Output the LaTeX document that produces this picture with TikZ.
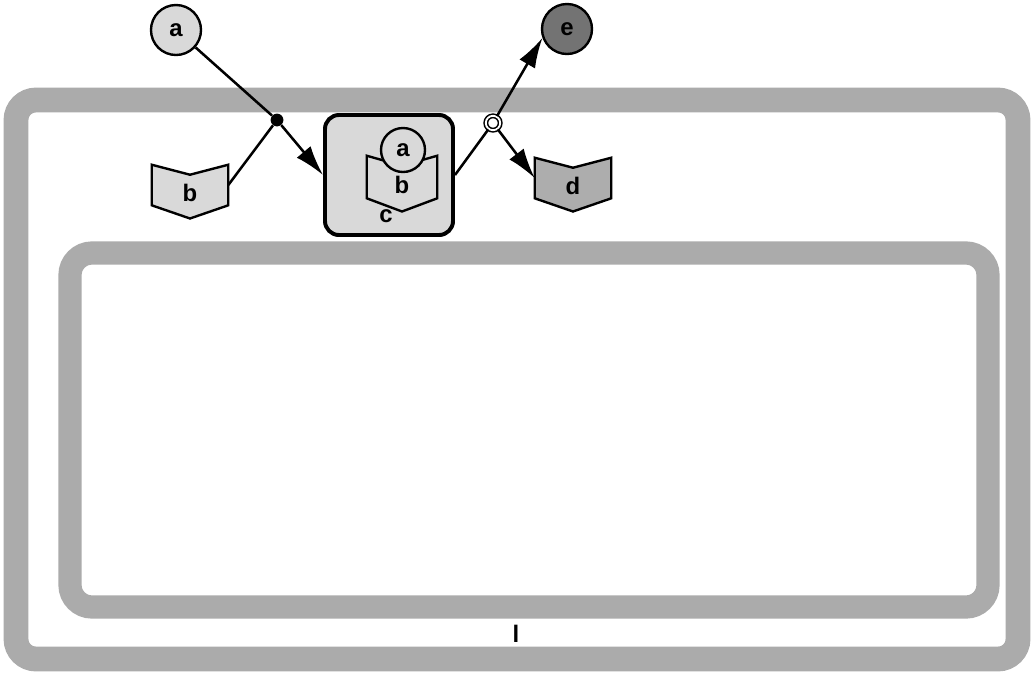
\documentclass[tikz,border=0pt]{standalone}
\usepackage{fontspec}
\setmainfont{Liberation Sans}
\usepackage{tikz}
\usetikzlibrary{arrows.meta,positioning}

% forma a libro: [opzioni] nome, posizione, riempimento, testo
\newcommand{\libro}[5][]{%
  \node[libro,#1] (#2) at (#3) {};
  \draw[fill=#4, line width=1.7pt] (#2.north west) -- ([yshift=-0.25cm]#2.north) -- (#2.north east)
    -- (#2.south east) -- ([yshift=-0.33cm]#2.south) -- (#2.south west) -- cycle;
  \node[lbl] (#2-t) at ([yshift=-0.2cm]#2.center) {#5};}

\begin{document}
\begin{tikzpicture}[x=0.025cm, y=-0.025cm, font=\bfseries\fontsize{17}{19}\selectfont,
    band/.style={draw=black!33, line width=0.62cm, rounded corners=0.5cm},
    circ/.style={circle, draw, line width=1.7pt, minimum size=1.25cm, inner sep=0pt},
    libro/.style={minimum width=1.9cm, minimum height=1cm, inner sep=0pt},
    lbl/.style={inner sep=0pt},
    box/.style={draw, rounded corners=0.35cm, line width=2.8pt, fill=black!15,
      minimum width=3.2cm, minimum height=3cm},
    conn/.style={line width=1.8pt},
    arr/.style={conn, -{Latex[length=0.75cm, width=0.45cm]}}]

    \useasboundingbox (0,0) rectangle (1032,673);

    % bande
    \draw[band] (16,100) rectangle (1018,659);
    \draw[band, line width=0.58cm, rounded corners=0.55cm] (70,253) rectangle (988,607);
    \node[lbl] (l) at (516,634) {l};

    % esterno
    \node[circ, fill=black!15] (a) at (176,30) {a};
    \node[circ, fill=black!55] (e) at (567,29) {e};
    \libro{b}{190,185}{black!15}{b}
    \libro{d}{573,178}{black!32}{d}

    % contesto c
    \node[box] (c) at (389,175) {};
    \node[lbl] (cl) at (386,216) {c};
    \libro[minimum width=1.75cm, minimum height=1.05cm]{b2}{402,177}{black!15}{b}
    \node[circ, fill=black!15, minimum size=1.1cm] (a2) at (403,150) {a};

    % giunzioni
    \node[circle, fill, inner sep=0pt, minimum size=0.32cm] (j1) at (277,120) {};
    \node[circle, draw, fill=white, double, double distance=1.3pt, line width=1.1pt,
      inner sep=0pt, minimum size=0.36cm] (j2) at (493,123) {};

    \draw[conn] (a) -- (j1);
    \draw[conn] (b.east) -- (j1);
    \draw[arr] (j1) -- (c.west);
    \draw[conn] (c.east) -- (j2);
    \draw[arr] (j2) -- (e.200);
    \draw[arr] (j2) -- (d.west);
\end{tikzpicture}
\end{document}
